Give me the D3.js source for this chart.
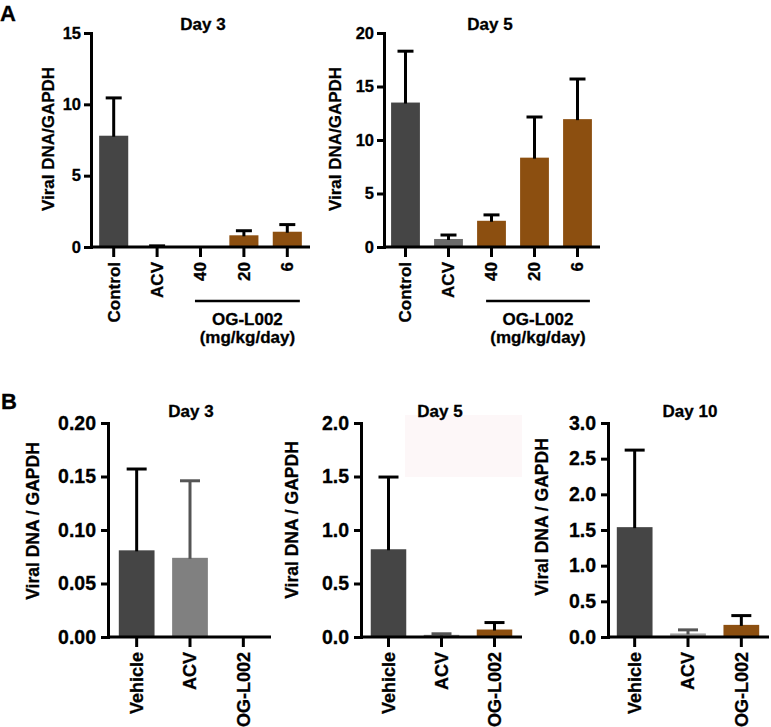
<!DOCTYPE html>
<html>
<head>
<meta charset="utf-8">
<script src="https://cdn.jsdelivr.net/npm/d3@7"></script>
<style>
  body { margin: 0; background: #fff; }
  text { font-family: "Liberation Sans", Arial, Helvetica, sans-serif; font-weight: bold; fill: #000;
         stroke: #000; stroke-width: 0.3px; }
</style>
</head>
<body>
<svg id="fig"></svg>
<script>
// categories
const catsA = ["Control", "ACV", "40", "20", "6"];
const catsB = ["Vehicle", "ACV", "OG-L002"];

// means and upper error
const a3Mean = [7.8, 0.05, 0, 0.82, 1.07];
const a3Err = [2.65, 0.03, 0, 0.32, 0.5];
const a5Mean = [13.5, 0.75, 2.45, 8.35, 11.95];
const a5Err = [4.8, 0.37, 0.55, 3.8, 3.75];
const b3Mean = [0.081, 0.074, 0];
const b3Err = [0.076, 0.072, 0];
const b5Mean = [0.82, 0.02, 0.07];
const b5Err = [0.675, 0.01, 0.065];
const b10Mean = [1.54, 0.05, 0.17];
const b10Err = [1.08, 0.05, 0.13];

// tick labels
const ticksA3 = [0, 5, 10, 15];
const ticksA5 = [0, 5, 10, 15, 20];
const ticksB3 = [0, 0.05, 0.10, 0.15, 0.20];
const ticksB5 = [0, 0.5, 1.0, 1.5, 2.0];
const ticksB10 = [0, 0.5, 1.0, 1.5, 2.0, 2.5, 3.0];

// bar colours
const dark = "#454545", brown = "#8c4f10";
const colorsA3 = [dark, "#5a5a5a", brown, brown, brown];
const colorsA5 = [dark, "#6b6b6b", brown, brown, brown];
const colorsB3 = [dark, "#808080", brown];
const colorsB5 = [dark, "#808080", brown];
const colorsB10 = [dark, "#a3a3a3", brown];
const errColorsA = ["#000", "#000", "#000", "#000", "#000"];
const errColorsB = ["#000", "#555", "#000"];

const width = 771, height = 727;
const svg = d3.select("#fig").attr("width", width).attr("height", height);

/* faint box sitting in the Day 5 (B) panel */
svg.append("rect")
  .attr("x", 405).attr("y", 415)
  .attr("width", 117).attr("height", 62)
  .attr("fill", "#fdf7f8");

function drawPanel(p) {
  const g = svg.append("g");
  const y = d3.scaleLinear()
    .domain([0, p.ticks[p.ticks.length - 1]])
    .range([p.y0, p.y1]);
  const x = d3.scaleBand()
    .domain(p.cats)
    .range([p.bx0, p.bx1])
    .paddingInner(0.33)
    .paddingOuter(0.165);
  const bw = x.bandwidth();

  const rows = p.cats.map((c, i) => ({cat: c, mean: p.mean[i], err: p.err[i], fill: p.colors[i], ecol: p.ecolors[i]}));

  // bars
  g.selectAll(".bar")
    .data(rows.filter(d => d.mean > 0)).enter()
    .append("rect")
      .attr("class", "bar")
      .attr("x", d => x(d.cat))
      .attr("y", d => y(d.mean))
      .attr("width", bw)
      .attr("height", d => y(0) - y(d.mean))
      .attr("fill", d => d.fill);

  // error bars (upper only)
  const eb = g.selectAll(".err")
    .data(rows.filter(d => d.err > 0)).enter()
    .append("g")
      .attr("class", "err")
      .attr("stroke", d => d.ecol)
      .attr("stroke-width", 3);
  eb.append("line")
    .attr("x1", d => x(d.cat) + bw / 2)
    .attr("x2", d => x(d.cat) + bw / 2)
    .attr("y1", d => y(d.mean) + 1)
    .attr("y2", d => y(d.mean + d.err));
  eb.append("line")
    .attr("x1", d => x(d.cat) + bw / 2 - p.cap / 2)
    .attr("x2", d => x(d.cat) + bw / 2 + p.cap / 2)
    .attr("y1", d => y(d.mean + d.err))
    .attr("y2", d => y(d.mean + d.err));

  // y axis
  const ya = g.append("g")
    .attr("transform", `translate(${p.ax},0)`)
    .call(d3.axisLeft(y).tickValues(p.ticks).tickFormat(d3.format(p.fmt))
      .tickSize(7).tickSizeOuter(0).tickPadding(p.tickPad));
  ya.select(".domain").attr("stroke-width", 3).attr("stroke-linecap", "square");
  ya.selectAll(".tick line").attr("stroke-width", 3);
  ya.selectAll(".tick text")
    .style("font-size", p.tickFont + "px")
    .attr("fill", "#000");

  // x axis
  const xa = g.append("g")
    .attr("transform", `translate(0,${p.y0})`)
    .call(d3.axisBottom(x).tickSize(10).tickSizeOuter(0));
  xa.select(".domain").remove();
  xa.append("line")
    .attr("x1", p.ax).attr("x2", p.bx1 + 1)
    .attr("stroke", "#000").attr("stroke-width", 3);
  xa.selectAll(".tick line").attr("stroke-width", 3);
  xa.selectAll(".tick text")
    .attr("transform", "rotate(-90)")
    .attr("text-anchor", "end")
    .attr("x", -15).attr("y", 0).attr("dy", "0.35em")
    .style("font-size", p.catFont + "px")
    .attr("fill", "#000");

  // y label
  g.append("text")
    .attr("transform", `translate(${p.lx},${p.ly}) rotate(-90)`)
    .attr("text-anchor", "middle")
    .attr("dy", "0.35em")
    .style("font-size", p.labelFont + "px")
    .text(p.ylabel);

  // title
  g.append("text")
    .attr("x", p.tx).attr("y", p.ty)
    .attr("text-anchor", "middle")
    .style("font-size", "17px")
    .text(p.title);

  // dose bracket under the OG-L002 groups
  if (p.group) {
    const gx0 = x("40") + 9, gx1 = x("6") + bw - 2;
    g.append("line")
      .attr("x1", gx0).attr("x2", gx1)
      .attr("y1", p.y0 + 54).attr("y2", p.y0 + 54)
      .attr("stroke", "#000").attr("stroke-width", 2.5);
    g.append("text")
      .attr("x", (gx0 + gx1) / 2).attr("y", p.y0 + 78)
      .attr("text-anchor", "middle").style("font-size", "17px")
      .text("OG-L002");
    g.append("text")
      .attr("x", (gx0 + gx1) / 2).attr("y", p.y0 + 96)
      .attr("text-anchor", "middle").style("font-size", "17px")
      .text("(mg/kg/day)");
  }
}

const baseA = {cats: catsA, ecolors: errColorsA, y0: 247, y1: 33, cap: 16, tickPad: 3,
  tickFont: 16.5, catFont: 17, labelFont: 17, ylabel: "Viral DNA/GAPDH", ty: 30, group: true};
const baseB = {cats: catsB, ecolors: errColorsB, y0: 637, y1: 423, cap: 20, tickPad: 5,
  tickFont: 19.5, catFont: 18, labelFont: 17.5, ylabel: "Viral DNA / GAPDH", ty: 417, group: false};

drawPanel({...baseA, title: "Day 3", mean: a3Mean, err: a3Err, colors: colorsA3, ticks: ticksA3, fmt: "d",
  ax: 91, bx0: 92, bx1: 309, lx: 48, ly: 139, tx: 203});
drawPanel({...baseA, title: "Day 5", mean: a5Mean, err: a5Err, colors: colorsA5, ticks: ticksA5, fmt: "d",
  ax: 384, bx0: 384, bx1: 599, lx: 335, ly: 139, tx: 490});
drawPanel({...baseB, title: "Day 3", mean: b3Mean, err: b3Err, colors: colorsB3, ticks: ticksB3, fmt: ".2f",
  ax: 108, bx0: 110, bx1: 270, lx: 33, ly: 521, tx: 191});
drawPanel({...baseB, title: "Day 5", mean: b5Mean, err: b5Err, colors: colorsB5, ticks: ticksB5, fmt: ".1f",
  ax: 361, bx0: 362, bx1: 521, lx: 292, ly: 520, tx: 440});
drawPanel({...baseB, title: "Day 10", mean: b10Mean, err: b10Err, colors: colorsB10, ticks: ticksB10, fmt: ".1f",
  ax: 608, bx0: 608, bx1: 768, lx: 542, ly: 517, tx: 690});

// panel letters
svg.append("text").attr("x", 0).attr("y", 21).style("font-size", "22px").text("A");
svg.append("text").attr("x", 1).attr("y", 409).style("font-size", "22px").text("B");
</script>
</body>
</html>
